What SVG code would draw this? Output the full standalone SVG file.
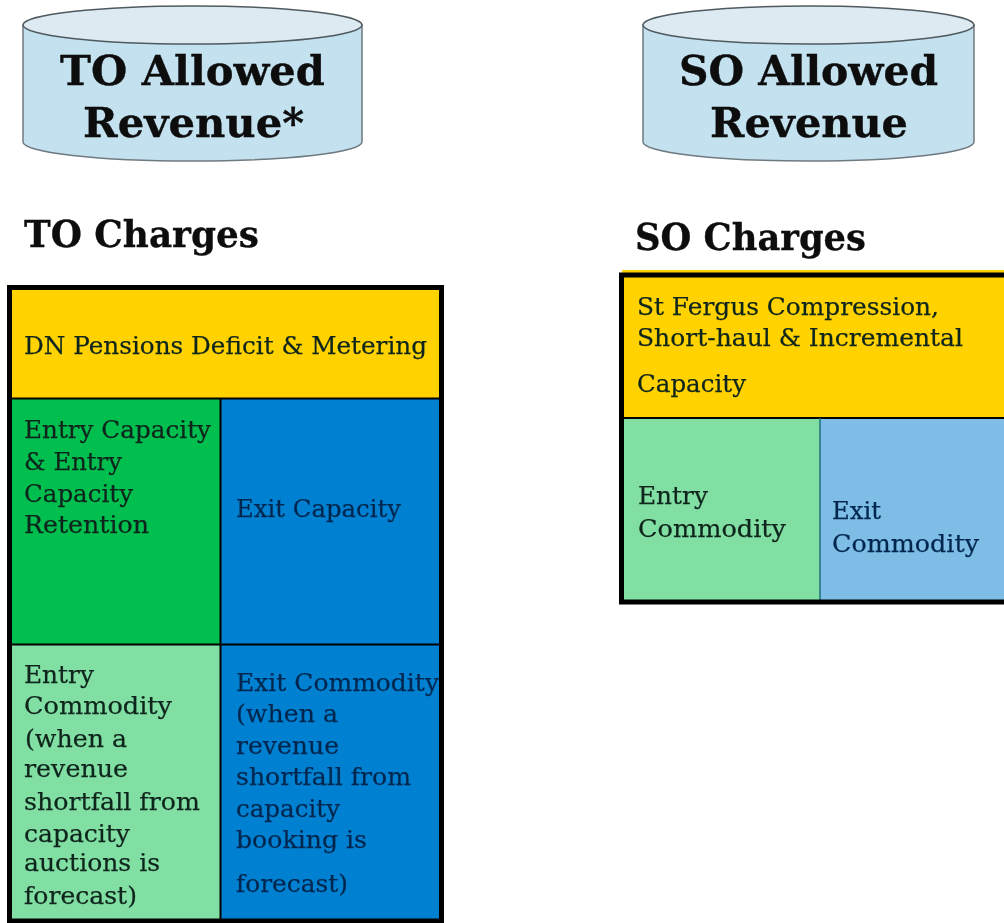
<svg xmlns="http://www.w3.org/2000/svg" width="1004" height="923" viewBox="0 0 1004 923">
<defs><filter id="soft" x="-5%" y="-20%" width="110%" height="140%"><feGaussianBlur stdDeviation="0.45"/></filter></defs>
<style>
text{font-family:"DejaVu Serif","Liberation Serif",serif;fill:#0a0a0a;filter:url(#soft)}
.h{font-size:41px;font-weight:700;stroke:#0a0a0a;stroke-width:.3}
.s{font-size:37px;font-weight:700;stroke:#0a0a0a;stroke-width:.3}
.b{font-size:25px;fill:#10251c;stroke:#10251c;stroke-width:.25}
.n .b{fill:#04284f;stroke:#04284f}
.k{stroke:#000;stroke-width:2;fill:none}
.o{stroke:#000;stroke-width:5;fill:none}
.cy{fill:#c3e1ee;stroke:#6f7a80;stroke-width:1.5}
.ct{fill:#deeaf2;stroke:#4f5a60;stroke-width:1.5}
</style>
<g id="to-allowed-revenue">
<path class="cy" d="M23 25V142A169.500 19 0 0 0 362 142V25Z"/>
<ellipse class="ct" cx="192.500" cy="25" rx="169.500" ry="19"/>
<text class="h" x="60" y="85" textLength="265" lengthAdjust="spacingAndGlyphs">TO Allowed</text>
<text class="h" x="83" y="137" textLength="221" lengthAdjust="spacingAndGlyphs">Revenue*</text>
</g>
<g id="so-allowed-revenue">
<path class="cy" d="M643 25V142A165.500 19 0 0 0 974 142V25Z"/>
<ellipse class="ct" cx="808.500" cy="25" rx="165.500" ry="19"/>
<text class="h" x="679" y="85" textLength="259" lengthAdjust="spacingAndGlyphs">SO Allowed</text>
<text class="h" x="710" y="137" textLength="198" lengthAdjust="spacingAndGlyphs">Revenue</text>
</g>
<g id="to-charges-title"><text class="s" x="24" y="247" textLength="235" lengthAdjust="spacingAndGlyphs">TO Charges</text></g>
<g id="so-charges-title"><text class="s" x="635" y="250" textLength="231" lengthAdjust="spacingAndGlyphs">SO Charges</text></g>
<g id="to-charges">
<g id="to-pensions">
<rect x="10" y="288" width="431" height="111" fill="#ffd200"/>
<text class="b" x="24" y="354" textLength="403" lengthAdjust="spacingAndGlyphs">DN Pensions Deficit &amp; Metering</text>
</g>
<g id="to-entry-capacity">
<rect x="10" y="398" width="211" height="246" fill="#00bf4f"/>
<text class="b" x="24" y="438" textLength="187" lengthAdjust="spacingAndGlyphs">Entry Capacity</text>
<text class="b" x="24" y="470" textLength="98" lengthAdjust="spacingAndGlyphs">&amp; Entry</text>
<text class="b" x="24" y="502" textLength="109" lengthAdjust="spacingAndGlyphs">Capacity</text>
<text class="b" x="24" y="533" textLength="125" lengthAdjust="spacingAndGlyphs">Retention</text>
</g>
<g id="to-exit-capacity" class="n">
<rect x="221" y="398" width="220" height="246" fill="#0080d0"/>
<text class="b" x="236" y="517" textLength="165" lengthAdjust="spacingAndGlyphs">Exit Capacity</text>
</g>
<g id="to-entry-commodity">
<rect x="10" y="644" width="211" height="277" fill="#82dfa4"/>
<text class="b" x="24" y="683" textLength="70" lengthAdjust="spacingAndGlyphs">Entry</text>
<text class="b" x="24" y="714" textLength="148" lengthAdjust="spacingAndGlyphs">Commodity</text>
<text class="b" x="25" y="747" textLength="102" lengthAdjust="spacingAndGlyphs">(when a</text>
<text class="b" x="24" y="777" textLength="104" lengthAdjust="spacingAndGlyphs">revenue</text>
<text class="b" x="24" y="810" textLength="176" lengthAdjust="spacingAndGlyphs">shortfall from</text>
<text class="b" x="24" y="842" textLength="106" lengthAdjust="spacingAndGlyphs">capacity</text>
<text class="b" x="24" y="871" textLength="136" lengthAdjust="spacingAndGlyphs">auctions is</text>
<text class="b" x="24" y="904" textLength="113" lengthAdjust="spacingAndGlyphs">forecast)</text>
</g>
<g id="to-exit-commodity" class="n">
<rect x="221" y="644" width="220" height="277" fill="#0080d0"/>
<text class="b" x="236" y="691" textLength="203" lengthAdjust="spacingAndGlyphs">Exit Commodity</text>
<text class="b" x="236" y="722" textLength="102" lengthAdjust="spacingAndGlyphs">(when a</text>
<text class="b" x="236" y="754" textLength="103" lengthAdjust="spacingAndGlyphs">revenue</text>
<text class="b" x="236" y="785" textLength="175" lengthAdjust="spacingAndGlyphs">shortfall from</text>
<text class="b" x="236" y="817" textLength="104" lengthAdjust="spacingAndGlyphs">capacity</text>
<text class="b" x="236" y="848" textLength="131" lengthAdjust="spacingAndGlyphs">booking is</text>
<text class="b" x="236" y="892" textLength="112" lengthAdjust="spacingAndGlyphs">forecast)</text>
</g>
<path class="k" d="M10 398.500H441M10 644.500H441M220.500 398V921"/>
<rect class="o" x="9.500" y="287.500" width="432" height="633.500"/>
</g>
<g id="so-charges">
<g id="so-compression">
<rect x="622" y="270" width="382" height="148" fill="#ffd200"/>
<text class="b" x="637" y="315" textLength="302" lengthAdjust="spacingAndGlyphs">St Fergus Compression,</text>
<text class="b" x="637" y="346" textLength="326" lengthAdjust="spacingAndGlyphs">Short-haul &amp; Incremental</text>
<text class="b" x="637" y="392" textLength="109" lengthAdjust="spacingAndGlyphs">Capacity</text>
</g>
<g id="so-entry-commodity">
<rect x="622" y="418" width="198" height="184" fill="#82dfa4"/>
<text class="b" x="638" y="504" textLength="70" lengthAdjust="spacingAndGlyphs">Entry</text>
<text class="b" x="638" y="537" textLength="148" lengthAdjust="spacingAndGlyphs">Commodity</text>
</g>
<g id="so-exit-commodity" class="n">
<rect x="820" y="418" width="184" height="184" fill="#7dbde6"/>
<text class="b" x="832" y="519" textLength="49" lengthAdjust="spacingAndGlyphs">Exit</text>
<text class="b" x="832" y="552" textLength="147" lengthAdjust="spacingAndGlyphs">Commodity</text>
</g>
<path d="M624 418H1004" stroke="#000" stroke-width="2" fill="none"/>
<path d="M820 418V601" stroke="#1f6f78" stroke-width="1.500" fill="none"/>
<path class="o" d="M1004 275H621.500V602H1004"/>
</g>
</svg>
